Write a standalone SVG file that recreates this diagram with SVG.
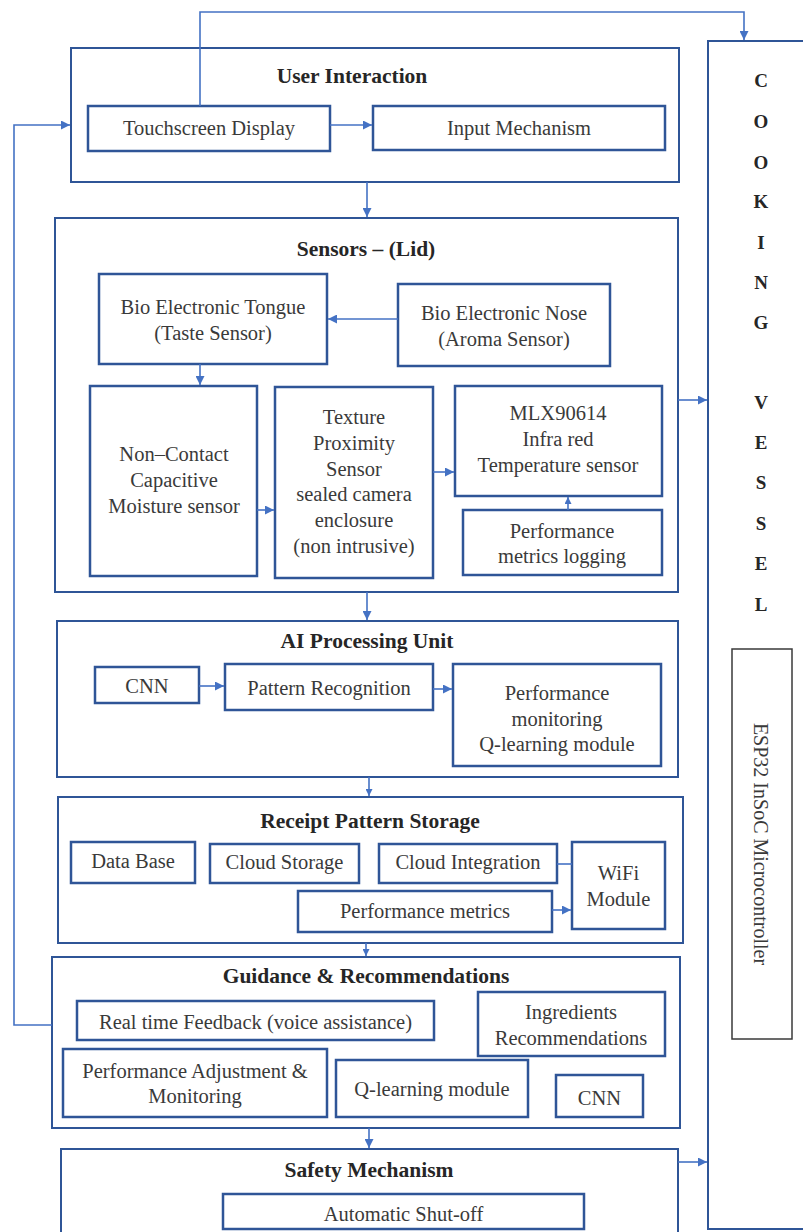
<svg xmlns="http://www.w3.org/2000/svg" width="803" height="1232" viewBox="0 0 803 1232">
<style>
.bg{fill:#ffffff}
.outer{fill:#ffffff;stroke:#2F5597;stroke-width:2}
.box{fill:#ffffff;stroke:#2F5597;stroke-width:2.5}
.mcu{fill:#ffffff;stroke:#3a3a3a;stroke-width:1.5}
.t{font-family:"Liberation Serif","Times New Roman",serif;font-size:20.5px;fill:#3a3a3a;text-anchor:middle}
.h{font-family:"Liberation Serif","Times New Roman",serif;font-size:21.5px;font-weight:bold;fill:#262626;text-anchor:middle}
.v{font-family:"Liberation Serif","Times New Roman",serif;font-size:19px;font-weight:bold;fill:#262626;text-anchor:middle}
.c{fill:none;stroke:#4472C4;stroke-width:1.6}
</style>
<defs>
<marker id="ah" markerUnits="userSpaceOnUse" markerWidth="9" markerHeight="9" viewBox="0 0 10 10" refX="10" refY="5" orient="auto"><path d="M0,0 L10,5 L0,10 z" fill="#4472C4"/></marker>
<marker id="ahs" markerUnits="userSpaceOnUse" markerWidth="7" markerHeight="7" viewBox="0 0 10 10" refX="10" refY="5" orient="auto"><path d="M0,0 L10,5 L0,10 z" fill="#4472C4"/></marker>
</defs>
<rect class="bg" x="0" y="0" width="803" height="1232"/>

<g id="vessel">
<rect class="outer" x="708" y="41" width="130" height="1188"/>
<text class="v" x="761" y="87">C</text>
<text class="v" x="761" y="128">O</text>
<text class="v" x="761" y="169">O</text>
<text class="v" x="761" y="208">K</text>
<text class="v" x="761" y="249">I</text>
<text class="v" x="761" y="289">N</text>
<text class="v" x="761" y="329">G</text>
<text class="v" x="761" y="409">V</text>
<text class="v" x="761" y="449">E</text>
<text class="v" x="761" y="489">S</text>
<text class="v" x="761" y="530">S</text>
<text class="v" x="761" y="570">E</text>
<text class="v" x="761" y="611">L</text>
</g>
<g id="esp32">
<rect class="mcu" x="732" y="649" width="60" height="390"/>
<text class="t" transform="translate(762,844) rotate(90)" x="0" y="8" style="font-size:20px">ESP32 InSoC Microcontroller</text>
</g>

<g id="user-interaction">
<rect class="outer" x="71" y="48" width="608" height="134"/>
<text class="h" x="352" y="83">User Interaction</text>
</g>
<g id="touchscreen"><rect class="box" x="88" y="106" width="242" height="45"/><text class="t" x="209" y="135">Touchscreen Display</text></g>
<g id="input"><rect class="box" x="373" y="106" width="292" height="44"/><text class="t" x="519" y="135">Input Mechanism</text></g>

<g id="sensors">
<rect class="outer" x="55" y="218" width="623" height="374"/>
<text class="h" x="366" y="256">Sensors – (Lid)</text>
</g>
<g id="tongue"><rect class="box" x="99" y="274" width="228" height="90"/><text class="t" x="213" y="314">Bio Electronic Tongue</text><text class="t" x="213" y="340">(Taste Sensor)</text></g>
<g id="nose"><rect class="box" x="398" y="284" width="212" height="82"/><text class="t" x="504" y="320">Bio Electronic Nose</text><text class="t" x="504" y="346">(Aroma Sensor)</text></g>
<g id="moisture"><rect class="box" x="90" y="386" width="167" height="190"/><text class="t" x="174" y="461">Non–Contact</text><text class="t" x="174" y="487">Capacitive</text><text class="t" x="174" y="513">Moisture sensor</text></g>
<g id="texture"><rect class="box" x="275" y="387" width="158" height="191"/><text class="t" x="354" y="424">Texture</text><text class="t" x="354" y="450">Proximity</text><text class="t" x="354" y="476">Sensor</text><text class="t" x="354" y="501">sealed camera</text><text class="t" x="354" y="527">enclosure</text><text class="t" x="354" y="553">(non intrusive)</text></g>
<g id="mlx"><rect class="box" x="455" y="386" width="207" height="110"/><text class="t" x="558" y="420">MLX90614</text><text class="t" x="558" y="446">Infra red</text><text class="t" x="558" y="472">Temperature sensor</text></g>
<g id="logging"><rect class="box" x="463" y="510" width="199" height="65"/><text class="t" x="562" y="538">Performance</text><text class="t" x="562" y="563">metrics logging</text></g>

<g id="ai">
<rect class="outer" x="57" y="621" width="621" height="156"/>
<text class="h" x="367" y="648">AI Processing Unit</text>
</g>
<g id="cnn1"><rect class="box" x="95" y="667" width="104" height="36"/><text class="t" x="147" y="693">CNN</text></g>
<g id="pattern"><rect class="box" x="225" y="664" width="208" height="46"/><text class="t" x="329" y="695">Pattern Recognition</text></g>
<g id="perfmon"><rect class="box" x="453" y="664" width="208" height="102"/><text class="t" x="557" y="700">Performance</text><text class="t" x="557" y="726">monitoring</text><text class="t" x="557" y="751">Q-learning module</text></g>

<g id="receipt">
<rect class="outer" x="58" y="797" width="625" height="146"/>
<text class="h" x="370" y="828">Receipt Pattern Storage</text>
</g>
<g id="database"><rect class="box" x="71" y="842" width="124" height="41"/><text class="t" x="133" y="868">Data Base</text></g>
<g id="cloudstorage"><rect class="box" x="210" y="844" width="149" height="39"/><text class="t" x="284.5" y="869">Cloud Storage</text></g>
<g id="cloudint"><rect class="box" x="379" y="844" width="178" height="39"/><text class="t" x="468" y="869">Cloud Integration</text></g>
<g id="wifi"><rect class="box" x="572" y="842" width="93" height="87"/><text class="t" x="618.5" y="880">WiFi</text><text class="t" x="618.5" y="906">Module</text></g>
<g id="perfmetrics"><rect class="box" x="298" y="891" width="254" height="41"/><text class="t" x="425" y="918">Performance metrics</text></g>

<g id="guidance">
<rect class="outer" x="52" y="957" width="628" height="171"/>
<text class="h" x="366" y="983">Guidance &amp; Recommendations</text>
</g>
<g id="feedback"><rect class="box" x="77" y="1001" width="357" height="39"/><text class="t" x="255.5" y="1029">Real time Feedback (voice assistance)</text></g>
<g id="ingredients"><rect class="box" x="478" y="992" width="187" height="64"/><text class="t" x="571" y="1019">Ingredients</text><text class="t" x="571" y="1045">Recommendations</text></g>
<g id="perfadjust"><rect class="box" x="63" y="1049" width="264" height="68"/><text class="t" x="195" y="1078">Performance Adjustment &amp;</text><text class="t" x="195" y="1103">Monitoring</text></g>
<g id="qlearning"><rect class="box" x="336" y="1060" width="192" height="57"/><text class="t" x="432" y="1096">Q-learning module</text></g>
<g id="cnn2"><rect class="box" x="556" y="1075" width="87" height="42"/><text class="t" x="599.5" y="1105">CNN</text></g>

<g id="safety">
<rect class="outer" x="61" y="1149" width="617" height="100"/>
<text class="h" x="369" y="1177">Safety Mechanism</text>
</g>
<g id="shutoff"><rect class="box" x="223" y="1194" width="361" height="35"/><text class="t" x="403.5" y="1221">Automatic Shut-off</text></g>

<g id="connectors">
<path class="c" d="M200,106 V12 H744 V40" marker-end="url(#ah)"/>
<path class="c" d="M52,1025 H14 V125 H70" marker-end="url(#ah)"/>
<path class="c" d="M330,125 H372" marker-end="url(#ah)"/>
<path class="c" d="M367,182 V217" marker-end="url(#ah)"/>
<path class="c" d="M398,319 H328" marker-end="url(#ah)"/>
<path class="c" d="M200,364 V385" marker-end="url(#ah)"/>
<path class="c" d="M257,510 H274" marker-end="url(#ah)"/>
<path class="c" d="M433,472 H454" marker-end="url(#ah)"/>
<path class="c" d="M568,510 V497" marker-end="url(#ahs)"/>
<path class="c" d="M678,400 H707" marker-end="url(#ah)"/>
<path class="c" d="M367,592 V620" marker-end="url(#ah)"/>
<path class="c" d="M199,686 H224" marker-end="url(#ah)"/>
<path class="c" d="M433,689 H452" marker-end="url(#ah)"/>
<path class="c" d="M369,777 V796" marker-end="url(#ahs)"/>
<path class="c" d="M557,864 H572"/>
<path class="c" d="M552,910 H571" marker-end="url(#ah)"/>
<path class="c" d="M366,943 V956" marker-end="url(#ahs)"/>
<path class="c" d="M369,1128 V1148" marker-end="url(#ah)"/>
<path class="c" d="M678,1162 H707" marker-end="url(#ah)"/>
</g>
</svg>
